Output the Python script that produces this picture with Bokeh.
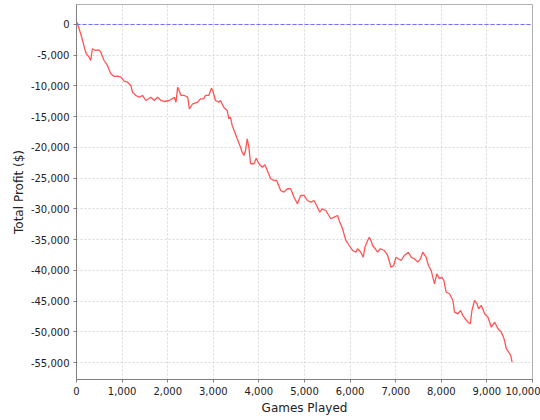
from bokeh.plotting import figure
from bokeh.models import Range1d, FixedTicker, NumeralTickFormatter, Span, ColumnDataSource
from bokeh.embed import file_html
from bokeh.resources import INLINE

games = [0, 18, 33, 92, 143, 180, 216, 275, 312, 348, 422, 495, 532, 605, 678, 752, 825, 898, 972,
         1045, 1118, 1192, 1228, 1302, 1375, 1448, 1522, 1632, 1705, 1778, 1852, 1925, 2035, 2145,
         2182, 2218, 2292, 2365, 2438, 2475, 2548, 2658, 2717, 2790, 2827, 2900, 2959, 2988, 3047,
         3120, 3157, 3230, 3304, 3340, 3377, 3414, 3472, 3524, 3582, 3634, 3670, 3707, 3744, 3780,
         3817, 3890, 3942, 4000, 4074, 4132, 4184, 4257, 4330, 4389, 4477, 4550, 4624, 4697, 4770,
         4844, 4917, 4990, 5064, 5137, 5210, 5284, 5335, 5394, 5467, 5577, 5650, 5724, 5760, 5834,
         5907, 5980, 6054, 6127, 6164, 6237, 6288, 6325, 6384, 6420, 6457, 6494, 6552, 6604, 6662,
         6750, 6824, 6897, 6956, 7007, 7058, 7117, 7190, 7278, 7337, 7410, 7484, 7542, 7594, 7667,
         7718, 7777, 7814, 7850, 7902, 7960, 8012, 8056, 8107, 8180, 8254, 8290, 8364, 8422, 8474,
         8525, 8584, 8635, 8672, 8730, 8782, 8818, 8877, 8950, 9024, 9097, 9170, 9244, 9317, 9376,
         9427, 9478, 9522, 9552]
profit = [0, 280, -160, -1510, -2880, -3950, -4770, -5320, -5860, -3950, -4230, -4120, -4510, -5860,
          -6670, -8020, -8460, -8410, -8570, -9230, -9390, -9920, -11010, -11550, -11830, -11550,
          -12370, -11830, -12370, -11830, -12370, -12530, -12370, -11830, -12640, -10200, -11550,
          -11550, -11830, -13720, -12900, -12640, -12090, -12090, -11550, -11550, -10360, -10740,
          -12370, -12640, -12370, -13460, -13990, -15340, -15080, -16430, -17520, -18600, -19690,
          -20780, -21310, -20500, -18600, -19960, -22660, -22660, -21750, -22660, -23220, -22830,
          -23750, -25100, -25380, -25380, -27010, -27280, -26730, -26730, -28100, -29170, -27820,
          -27820, -28640, -28910, -28640, -29730, -30540, -29990, -30260, -31610, -31350, -31080,
          -31890, -33240, -35140, -35960, -36770, -37050, -36490, -37050, -37860, -36230, -35140,
          -34610, -35140, -35960, -36490, -37050, -36490, -36770, -37580, -39490, -39210, -37860,
          -38120, -38400, -37580, -37050, -37860, -38120, -38670, -38120, -37050, -37860, -39210,
          -40020, -41110, -42190, -40560, -41370, -41110, -41650, -43560, -43810, -44900, -46810,
          -47070, -46530, -47350, -47880, -48440, -48700, -46530, -44900, -45440, -46260, -45720,
          -47070, -47620, -49250, -48440, -49510, -50060, -51140, -52760, -53320, -53850, -54940]

x_ticks = [0, 1000, 2000, 3000, 4000, 5000, 6000, 7000, 8000, 9000, 10000]
y_ticks = [0, -5000, -10000, -15000, -20000, -25000, -30000, -35000, -40000, -45000, -50000, -55000]

p = figure(width=540, height=420, output_backend="svg", toolbar_location=None,
           x_range=Range1d(0, 10000), y_range=Range1d(-57760, 3250),
           min_border_left=76, min_border_right=8, min_border_top=4, min_border_bottom=41)

p.background_fill_color = "white"
p.border_fill_color = "white"
p.outline_line_color = "#b0b0b0"
p.outline_line_width = 1

for ax in (p.xaxis[0], p.yaxis[0]):
    ax.axis_line_color = "#808080"
    ax.major_tick_line_color = "#808080"
    ax.major_tick_in = 0
    ax.major_tick_out = 3
    ax.minor_tick_line_color = None
    ax.major_label_text_font = "DejaVu Sans"
    ax.major_label_text_font_size = "10px"
    ax.major_label_text_color = "#222222"
    ax.axis_label_text_font = "DejaVu Sans"
    ax.axis_label_text_font_size = "12px"
    ax.axis_label_text_font_style = "normal"
    ax.axis_label_text_color = "#222222"
    ax.formatter = NumeralTickFormatter(format="0,0")

p.xaxis.ticker = FixedTicker(ticks=x_ticks)
p.yaxis.ticker = FixedTicker(ticks=y_ticks)
p.xaxis.axis_label = "Games Played"
p.yaxis.axis_label = "Total Profit ($)"
p.xaxis.major_label_standoff = 4
p.yaxis.major_label_standoff = 4
p.xaxis.axis_label_standoff = 3
p.yaxis.axis_label_standoff = 2

p.xgrid.ticker = FixedTicker(ticks=x_ticks)
p.ygrid.ticker = FixedTicker(ticks=y_ticks)
for g in (p.xgrid[0], p.ygrid[0]):
    g.grid_line_color = "#d8d8d8"
    g.grid_line_dash = "2 2"
    g.grid_line_width = 1

zero = Span(location=0, dimension="width", line_color="#6f6fff", line_dash="4 2", line_width=1)
p.add_layout(zero)

src = ColumnDataSource(data=dict(games=games, profit=profit))
p.line("games", "profit", source=src, line_color="#ff5555", line_width=1.3)

open("out.html", "w").write(file_html(p, INLINE))
